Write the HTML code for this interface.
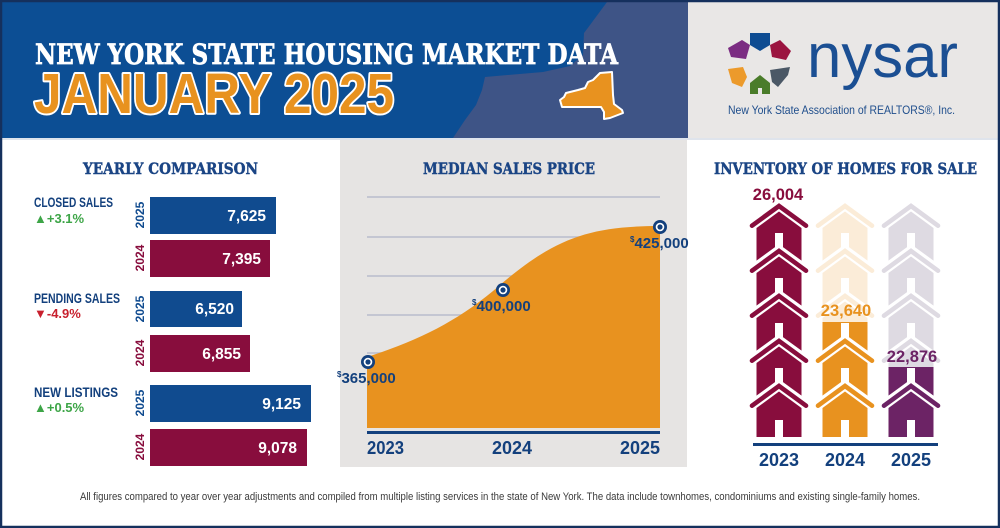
<!DOCTYPE html>
<html><head><meta charset="utf-8"><style>
html,body{margin:0;padding:0;background:#fff;}
svg{display:block;}
</style></head><body>
<svg width="1000" height="528" viewBox="0 0 1000 528" xmlns="http://www.w3.org/2000/svg">
<defs>
  <g id="hu" >
    <polyline points="-27,22.7 0,3 27,22.7" fill="none" stroke="#fff" stroke-width="11" stroke-linejoin="miter" stroke-linecap="round"/>
    <polyline points="-27,22.7 0,3 27,22.7" fill="none" stroke="currentColor" stroke-width="4.6" stroke-linejoin="miter" stroke-linecap="round"/>
    <polygon points="0,8.5 22.5,25 22.5,66 -22.5,66 -22.5,25" fill="currentColor"/>
    <rect x="-4" y="30" width="8" height="22" fill="#fff"/>
  </g>
  <g id="hb">
    <polyline points="-27,22.7 0,3 27,22.7" fill="none" stroke="#fff" stroke-width="11" stroke-linejoin="miter" stroke-linecap="round"/>
    <polyline points="-27,22.7 0,3 27,22.7" fill="none" stroke="currentColor" stroke-width="4.6" stroke-linejoin="miter" stroke-linecap="round"/>
    <polygon points="0,8.5 22.5,25 22.5,54 -22.5,54 -22.5,25" fill="currentColor"/>
    <rect x="-4" y="37" width="8" height="17" fill="#fff"/>
  </g>
  <g id="col">
    <use href="#hu" y="203"/>
    <use href="#hu" y="248"/>
    <use href="#hu" y="293"/>
    <use href="#hu" y="338"/>
    <use href="#hb" y="383"/>
  </g>
  <clipPath id="c24"><rect x="800" y="322" width="90" height="130"/></clipPath>
  <clipPath id="c25"><rect x="866" y="367" width="90" height="90"/></clipPath>
</defs>

<!-- background -->
<rect x="0" y="0" width="1000" height="528" fill="#fff"/>
<!-- header -->
<rect x="0" y="0" width="690" height="138" fill="#0c4e94"/>
<polygon points="607,2 590,25 584,33 583,55 570,66 543,72 485,77 482,90 476,105 465,120 453,138 690,138 690,2" fill="#3e5486"/>
<rect x="688" y="0" width="312" height="138" fill="#e9e7e6"/>
<rect x="0" y="138" width="1000" height="2" fill="#dfe4ec"/>

<text x="35" y="64" font-family="'DejaVu Serif','Liberation Serif',serif" font-weight="bold" font-size="28" fill="#fff" stroke="#fff" stroke-width="0.7" textLength="583" lengthAdjust="spacingAndGlyphs">NEW YORK STATE HOUSING MARKET DATA</text>
<text x="34" y="113" font-family="'Liberation Sans',sans-serif" font-weight="bold" font-size="57" fill="#e8921f" stroke="#fff" stroke-width="4" paint-order="stroke" stroke-linejoin="round" textLength="360" lengthAdjust="spacingAndGlyphs">JANUARY 2025</text>

<!-- NY state -->
<polygon points="600,73 612,72 613,95 614,104 622,110 623,113 610,118 604,119 604,112 601,107 562,107 560,100 564,97 566,93 578,90 585,88 588,82 593,80" fill="#e8921f" stroke="#fff" stroke-width="2" stroke-linejoin="round"/>

<!-- logo -->
<polygon points="750,33 770,33 770,45 760,51 750,45" fill="#0e4c92"/>
<polygon points="742,40 750,45 746,59 731,57 728,48" fill="#7b2c82"/>
<polygon points="770,45 780,40 791,51 786,60 772,57" fill="#9b1440"/>
<polygon points="728,69 743,67 747,77 742,87 732,83" fill="#ec9a2b"/>
<polygon points="770,70 790,67 788,75 778,87 772,82" fill="#4b5866"/>
<polygon points="750,83 760,75 770,83 770,94 762,94 762,88 758,88 758,94 750,94" fill="#4a7c2a"/>
<text x="807" y="77" font-family="'Liberation Sans',sans-serif" font-size="62" fill="#1b4f93" textLength="151" lengthAdjust="spacingAndGlyphs">nysar</text>
<text x="728" y="114" font-family="'Liberation Sans',sans-serif" font-size="12" fill="#1f4e8c" textLength="227" lengthAdjust="spacingAndGlyphs">New York State Association of REALTORS®, Inc.</text>

<!-- middle panel -->
<rect x="340" y="140" width="347" height="327" fill="#e6e4e3"/>

<!-- section titles -->
<g font-family="'DejaVu Serif','Liberation Serif',serif" font-weight="bold" font-size="16" fill="#1b4585" stroke="#1b4585" stroke-width="0.45">
  <text x="83" y="174" textLength="175" lengthAdjust="spacingAndGlyphs">YEARLY COMPARISON</text>
  <text x="423" y="174" textLength="172" lengthAdjust="spacingAndGlyphs">MEDIAN SALES PRICE</text>
  <text x="714" y="174" textLength="263" lengthAdjust="spacingAndGlyphs">INVENTORY OF HOMES FOR SALE</text>
</g>

<!-- yearly comparison -->
<g font-family="'Liberation Sans',sans-serif" font-weight="bold">
  <text x="34" y="207" font-size="13.5" fill="#13407d" textLength="79" lengthAdjust="spacingAndGlyphs">CLOSED SALES</text>
  <text x="34" y="223" font-size="13" fill="#3da547">▲+3.1%</text>
  <text x="34" y="303" font-size="13.5" fill="#13407d" textLength="86" lengthAdjust="spacingAndGlyphs">PENDING SALES</text>
  <text x="34" y="318" font-size="13" fill="#c8202e">▼-4.9%</text>
  <text x="34" y="397" font-size="13.5" fill="#13407d" textLength="84" lengthAdjust="spacingAndGlyphs">NEW LISTINGS</text>
  <text x="34" y="412" font-size="13" fill="#3da547">▲+0.5%</text>

  <rect x="150" y="197" width="126" height="37" fill="#104b8f"/>
  <rect x="150" y="240" width="120" height="37" fill="#880d3d"/>
  <rect x="150" y="291" width="92" height="36" fill="#104b8f"/>
  <rect x="150" y="335" width="100" height="37" fill="#880d3d"/>
  <rect x="150" y="385" width="161" height="37" fill="#104b8f"/>
  <rect x="150" y="429" width="157" height="37" fill="#880d3d"/>

  <g font-size="15.5" fill="#fff" text-anchor="end">
    <text x="266" y="221">7,625</text>
    <text x="261" y="264">7,395</text>
    <text x="234" y="314">6,520</text>
    <text x="241" y="359">6,855</text>
    <text x="301" y="409">9,125</text>
    <text x="297" y="453">9,078</text>
  </g>
  <g font-size="12" text-anchor="middle">
    <text transform="translate(144,215) rotate(-90)" fill="#104b8f">2025</text>
    <text transform="translate(144,258) rotate(-90)" fill="#880d3d">2024</text>
    <text transform="translate(144,309) rotate(-90)" fill="#104b8f">2025</text>
    <text transform="translate(144,353) rotate(-90)" fill="#880d3d">2024</text>
    <text transform="translate(144,403) rotate(-90)" fill="#104b8f">2025</text>
    <text transform="translate(144,447) rotate(-90)" fill="#880d3d">2024</text>
  </g>
</g>

<!-- median sales price chart -->
<g stroke="#b9bccc" stroke-width="1.5">
  <line x1="367" y1="197" x2="660" y2="197"/>
  <line x1="367" y1="237" x2="660" y2="237"/>
  <line x1="367" y1="276" x2="660" y2="276"/>
  <line x1="367" y1="315" x2="660" y2="315"/>
  <line x1="367" y1="353" x2="660" y2="353"/>
</g>
<path d="M367,357 C420,340 460,320 500,285 C555,238 590,226 660,226 L660,428 L367,428 Z" fill="#e8921f"/>
<rect x="367" y="431" width="293" height="3" fill="#13407d"/>
<g fill="#13407d">
  <circle cx="368" cy="362" r="7"/><circle cx="368" cy="362" r="4.3" fill="#fff"/><circle cx="368" cy="362" r="2.6"/>
  <circle cx="503" cy="290" r="7"/><circle cx="503" cy="290" r="4.3" fill="#fff"/><circle cx="503" cy="290" r="2.6"/>
  <circle cx="660" cy="227" r="7"/><circle cx="660" cy="227" r="4.3" fill="#fff"/><circle cx="660" cy="227" r="2.6"/>
</g>
<g font-family="'Liberation Sans',sans-serif" font-weight="bold" fill="#13407d">
  <text x="337" y="383" font-size="15"><tspan font-size="8" dy="-6">$</tspan><tspan dy="6">365,000</tspan></text>
  <text x="472" y="311" font-size="15"><tspan font-size="8" dy="-6">$</tspan><tspan dy="6">400,000</tspan></text>
  <text x="630" y="248" font-size="15"><tspan font-size="8" dy="-6">$</tspan><tspan dy="6">425,000</tspan></text>
  <text x="367" y="454" font-size="18" textLength="37" lengthAdjust="spacingAndGlyphs">2023</text>
  <text x="512" y="454" font-size="18" text-anchor="middle">2024</text>
  <text x="660" y="454" font-size="18" text-anchor="end">2025</text>
</g>

<!-- inventory -->
<use href="#col" x="779" style="color:#880d3d"/>
<use href="#col" x="845" style="color:#fbecd8"/>
<use href="#col" x="911" style="color:#dedae2"/>
<g clip-path="url(#c24)"><use href="#col" x="845" style="color:#e8921f"/></g>
<g clip-path="url(#c25)"><use href="#col" x="911" style="color:#6c2365"/></g>
<rect x="753" y="443" width="185" height="3" fill="#13407d"/>
<g font-family="'Liberation Sans',sans-serif" font-weight="bold" text-anchor="middle">
  <text x="778" y="200" font-size="16.5" fill="#880d3d">26,004</text>
  <text x="846" y="316" font-size="16.5" fill="#e8921f">23,640</text>
  <text x="912" y="362" font-size="16.5" fill="#6c2365">22,876</text>
  <text x="779" y="466" font-size="18" fill="#13407d">2023</text>
  <text x="845" y="466" font-size="18" fill="#13407d">2024</text>
  <text x="911" y="466" font-size="18" fill="#13407d">2025</text>
</g>

<!-- footer -->
<text x="80" y="500" font-family="'Liberation Sans',sans-serif" font-size="11" fill="#3a3a3a" textLength="840" lengthAdjust="spacingAndGlyphs">All figures compared to year over year adjustments and compiled from multiple listing services in the state of New York.  The data include townhomes, condominiums and existing single-family homes.</text>

<!-- outer border -->
<rect x="1" y="1" width="998" height="526" fill="none" stroke="#15305d" stroke-width="2.5"/>
</svg>
</body></html>
